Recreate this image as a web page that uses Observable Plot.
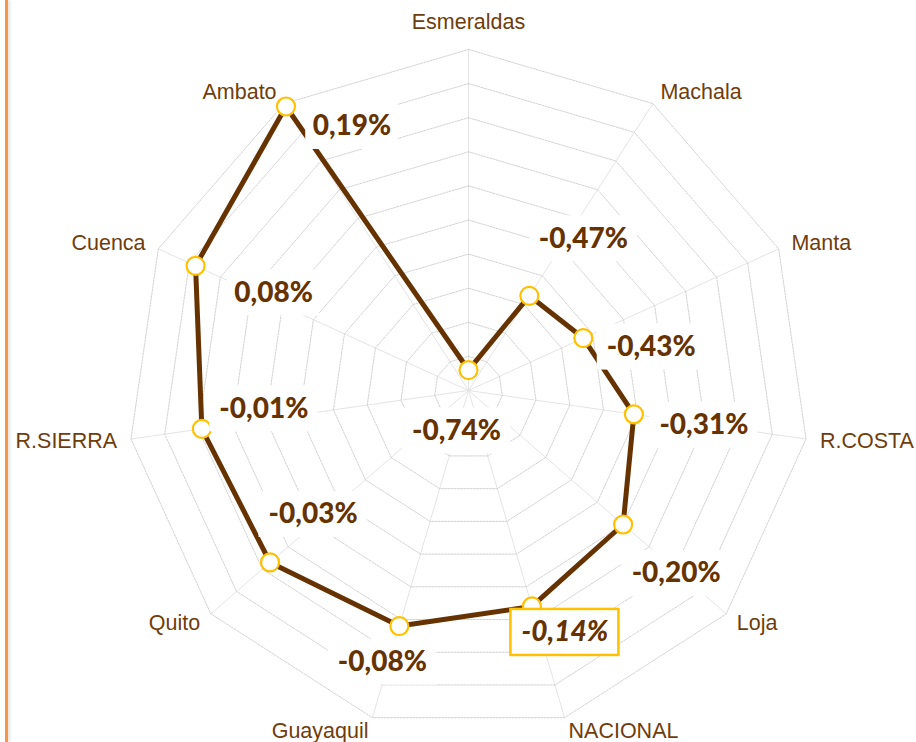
<!DOCTYPE html>
<html>
<head>
<meta charset="utf-8">
<script src="https://cdn.jsdelivr.net/npm/d3@7"></script>
<script src="https://cdn.jsdelivr.net/npm/@observablehq/plot@0.6"></script>
<style>
  html, body { margin: 0; padding: 0; background: #ffffff; }
  #wrap { position: relative; width: 916px; height: 742px; overflow: hidden; }
  #edge { position: absolute; left: 5px; top: 0; width: 3px; height: 742px; background: #F79646; box-shadow: 2px 0 3px rgba(0,0,0,0.12); }
  #chart { position: absolute; left: 0; top: 0; }
</style>
</head>
<body>
<div id="wrap"><div id="chart"></div><div id="edge"></div></div>
<script>
// ---- Data ----
const categories = ["Esmeraldas", "Machala", "Manta", "R.COSTA", "Loja", "NACIONAL", "Guayaquil", "Quito", "R.SIERRA", "Cuenca", "Ambato"];
const values = [-0.74, -0.47, -0.43, -0.31, -0.20, -0.14, -0.08, -0.03, -0.01, 0.08, 0.19];
const ringTicks = [-0.7, -0.6, -0.5, -0.4, -0.3, -0.2, -0.1, 0.0, 0.1, 0.2];
const axisMin = -0.8;
const axisMax = 0.2;
const highlighted = "NACIONAL";

// ---- Layout (pixels) ----
const W = 916, H = 742;
const cx = 468, cy = 390, R = 341;
// data label offsets from their points, in pixels (as placed in the original)
const labelOffsets = [[-12, 61], [54, -57], [68, 9], [70, 11], [53, 49], [33, 26], [-17, 36], [43, -48], [62, -20], [78, 27], [66, 20]];

const n = categories.length;
const ang = i => i * 2 * Math.PI / n;
const rad = v => (v - axisMin) / (axisMax - axisMin);
const px = 1 / R; // one pixel in plot units
const polar = (r, i) => ({x: r * Math.sin(ang(i)), y: r * Math.cos(ang(i))});

// grid rings
const rings = [];
ringTicks.forEach(t => {
  for (let i = 0; i <= n; i++) {
    const p = polar(rad(t), i % n);
    rings.push({ring: t, x: p.x, y: p.y});
  }
});
// spokes
const spokes = categories.map((c, i) => {
  const p = polar(1, i);
  return {x1: 0, y1: 0, x2: p.x, y2: p.y};
});
// series points
const pts = categories.map((c, i) => {
  const p = polar(rad(values[i]), i);
  return {cat: c, value: values[i], x: p.x, y: p.y};
});
const closed = pts.concat([pts[0]]);

// data labels
const fmt = v => v.toFixed(2).replace(".", ",") + "%";
const labels = pts.map((p, i) => {
  const txt = fmt(p.value);
  const lx = p.x + labelOffsets[i][0] * px;
  const ly = p.y - labelOffsets[i][1] * px;
  const w = (txt.length * 15.5 + 15) * px, h = 46 * px;
  return {cat: p.cat, text: txt, x: lx, y: ly, x1: lx - w / 2, x2: lx + w / 2, y1: ly - h / 2, y2: ly + h / 2};
});

// category labels
const catLabels = categories.map((c, i) => {
  const d = (i === 0 ? 27 : 14) * px;
  const p = polar(1, i);
  const s = Math.sin(ang(i));
  const anchor = Math.abs(s) < 1e-6 ? "middle" : (s > 0 ? "start" : "end");
  return {text: c, x: p.x + d * Math.sin(ang(i)), y: p.y + d * Math.cos(ang(i)), anchor};
});

const catFont = {fontFamily: "'Liberation Sans', Arial, sans-serif", fontSize: 21.5, fill: "#6f3d0c", lineAnchor: "middle"};
const valFont = {fontFamily: "Lato, 'Open Sans', sans-serif", fontSize: 28, fontWeight: 900, fill: "#663300", lineAnchor: "middle", textAnchor: "middle"};

const chart = Plot.plot({
  width: W, height: H,
  marginTop: 0, marginRight: 0, marginBottom: 0, marginLeft: 0,
  x: {domain: [-cx / R, (W - cx) / R], axis: null},
  y: {domain: [-(H - cy) / R, cy / R], axis: null},
  style: {background: "transparent"},
  marks: [
    Plot.link(spokes, {x1: "x1", y1: "y1", x2: "x2", y2: "y2", stroke: "#e4e4e4", strokeWidth: 1}),
    Plot.line(rings, {x: "x", y: "y", z: "ring", stroke: "#c6c6c6", strokeWidth: 0.8, strokeDasharray: "2,1.2", curve: "linear"}),
    Plot.line(closed, {x: "x", y: "y", stroke: "#663300", strokeWidth: 5, strokeLinejoin: "miter", curve: "linear"}),
    Plot.dot(pts, {x: "x", y: "y", r: 9, fill: "white", stroke: "#FFC000", strokeWidth: 2.2}),
    Plot.rect(labels.filter(d => d.cat !== highlighted), {x1: "x1", x2: "x2", y1: "y1", y2: "y2", fill: "white"}),
    Plot.rect(labels.filter(d => d.cat === highlighted), {x1: "x1", x2: "x2", y1: "y1", y2: "y2", fill: "white", stroke: "#FFC000", strokeWidth: 2.5}),
    Plot.text(labels.filter(d => d.cat !== highlighted), {x: "x", y: "y", text: "text", ...valFont}),
    Plot.text(labels.filter(d => d.cat === highlighted), {x: "x", y: "y", text: "text", ...valFont, fontStyle: "italic"}),
    Plot.text(catLabels.filter(d => d.anchor === "start"), {x: "x", y: "y", text: "text", textAnchor: "start", ...catFont}),
    Plot.text(catLabels.filter(d => d.anchor === "end"), {x: "x", y: "y", text: "text", textAnchor: "end", ...catFont}),
    Plot.text(catLabels.filter(d => d.anchor === "middle"), {x: "x", y: "y", text: "text", textAnchor: "middle", ...catFont})
  ]
});
document.getElementById("chart").appendChild(chart);
</script>
</body>
</html>
